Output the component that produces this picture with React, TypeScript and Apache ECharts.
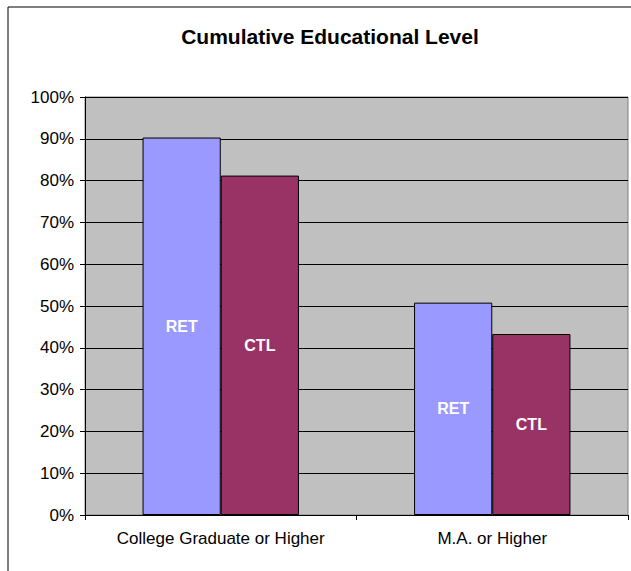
import React, { useEffect, useRef } from "react";
import * as echarts from "echarts";

const categories = ["College Graduate or Higher", "M.A. or Higher"];
const retValues = [90.3, 50.8];
const ctlValues = [81.2, 43.3];
const yTicks = [0, 10, 20, 30, 40, 50, 60, 70, 80, 90, 100];

const FONT = "Arial, Liberation Sans, sans-serif";

export default function App() {
  const ref = useRef<HTMLDivElement>(null);
  useEffect(() => {
    if (!ref.current) return;
    const chart = echarts.init(ref.current, null, { renderer: "svg" });
    chart.setOption({
      animation: false,
      backgroundColor: "#ffffff",
      title: {
        text: "Cumulative Educational Level",
        left: 325,
        textAlign: "center",
        top: 21,
        textStyle: { fontFamily: FONT, fontSize: 21, fontWeight: "bold", color: "#000" },
      },
      graphic: [
        {
          type: "rect",
          shape: { x: 8, y: 7, width: 700, height: 700 },
          style: { fill: "none", stroke: "#000", lineWidth: 1 },
          silent: true,
          z: -1,
        },
      ],
      grid: {
        left: 85,
        top: 97,
        right: 3,
        bottom: 56,
        show: true,
        backgroundColor: "#C0C0C0",
        borderColor: "#808080",
        borderWidth: 1,
      },
      xAxis: {
        type: "category",
        data: categories,
        axisLine: { show: true, lineStyle: { color: "#000", width: 1 } },
        axisTick: { show: true, length: 5, lineStyle: { color: "#000" } },
        axisLabel: { fontFamily: FONT, fontSize: 17, color: "#000", margin: 15 },
      },
      yAxis: {
        type: "value",
        min: yTicks[0],
        max: yTicks[yTicks.length - 1],
        interval: 10,
        axisLine: { show: true, lineStyle: { color: "#000", width: 1 } },
        axisTick: { show: true, length: 5, lineStyle: { color: "#000" } },
        axisLabel: {
          formatter: (v: number) => v + "%",
          fontFamily: FONT,
          fontSize: 17,
          color: "#000",
          margin: 11,
        },
        splitLine: { show: true, lineStyle: { color: "#000", width: 1 } },
      },
      series: [
        {
          name: "RET",
          type: "bar",
          data: retValues,
          barGap: "0%",
          barCategoryGap: "42.4%",
          itemStyle: { color: "#9999FF", borderColor: "#000", borderWidth: 1 },
          label: {
            show: true,
            position: "inside",
            formatter: "RET",
            color: "#fff",
            fontFamily: FONT,
            fontSize: 16,
            fontWeight: "bold",
          },
        },
        {
          name: "CTL",
          type: "bar",
          data: ctlValues,
          barGap: "0%",
          barCategoryGap: "42.4%",
          itemStyle: { color: "#993366", borderColor: "#000", borderWidth: 1 },
          label: {
            show: true,
            position: "inside",
            formatter: "CTL",
            color: "#fff",
            fontFamily: FONT,
            fontSize: 16,
            fontWeight: "bold",
          },
        },
      ],
    });
    return () => chart.dispose();
  }, []);
  return (
    <div
      ref={ref}
      style={{ position: "fixed", left: 0, top: 0, width: 631, height: 571 }}
    />
  );
}
